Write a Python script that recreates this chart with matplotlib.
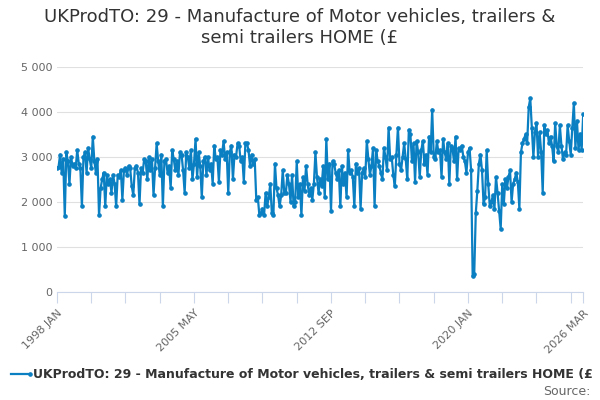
import matplotlib
matplotlib.use("Agg")
import matplotlib.pyplot as plt

values = [
    2750,2780,3050,2650,2950,1680,3100,2900,2400,3000,2800,2850,
    2750,3150,2850,2750,1900,3000,3100,2650,3200,2950,2750,3450,
    2900,2650,2950,1700,2300,2500,2650,1900,2600,2400,2500,2200,
    2600,2400,1900,2600,2550,2700,2050,2700,2750,2600,2800,2750,
    2350,2150,2750,2800,2650,1950,2750,2650,2950,2900,2500,3000,
    2700,2950,2150,2750,3300,2900,2600,3050,1900,2900,2950,2650,
    2800,2300,3150,2950,2700,2900,2600,3100,3050,2700,2200,3100,
    3000,2750,3150,2500,2850,3400,2550,3100,2800,2100,2900,3000,
    2600,3000,2700,2850,2400,3250,2950,3000,2450,3150,3050,3350,
    2950,3100,2200,3100,3250,2500,3050,3000,3300,3250,2900,3000,
    2450,3300,3300,3150,2800,3050,2850,2950,2050,2100,1700,1750,
    1850,1700,2200,1900,2100,2400,1750,1700,2850,2300,2150,1900,
    2150,2700,2200,2200,2600,2400,2000,2600,1900,2000,2900,2100,
    2400,1700,2550,2250,2800,2400,2150,2300,2050,2400,3100,2550,
    2200,2500,2350,2800,2100,3400,2500,2850,1800,2900,2850,2650,
    2500,2700,1900,2800,2400,2650,2100,3150,2650,2700,2550,1900,
    2850,2650,2750,1850,2650,2750,2550,3350,2950,2600,2800,3200,
    1900,3150,2900,2800,2650,2500,3200,3000,2700,3650,2950,3000,
    2600,2350,3050,3650,2850,2700,3000,3300,2950,2500,3600,3500,
    2900,3300,2450,3350,3100,2550,3150,3350,2850,3050,2600,3450,
    3100,4050,3000,2950,3350,3100,3150,2550,3400,3100,2950,3300,
    2400,3250,3200,2900,3450,2500,3200,3150,3250,3000,2900,2650,
    3100,3200,2700,350,400,1750,2250,2850,3050,2700,1950,2100,
    3150,2400,1900,2000,2150,1850,2550,2200,1800,1400,2400,1950,
    2500,2300,2550,2700,2000,2400,2500,2650,2450,1850,3100,3300,
    3400,3500,3300,4100,4300,3650,3000,3550,3750,3000,3550,3100,
    2200,3700,3500,3600,3300,3450,3250,2900,3750,3250,3100,3700,
    3250,2950,3100,3050,3700,3350,3050,3650,4200,3200,3800,3150,
    3500,3150,3950,
]
label_pos = [0, 88, 176, 264, 338]
label_txt = ["1998 JAN", "2005 MAY", "2012 SEP", "2020 JAN", "2026 MAR"]
title = "UKProdTO: 29 - Manufacture of Motor vehicles, trailers &\nsemi trailers HOME (£"
series_name = "UKProdTO: 29 - Manufacture of Motor vehicles, trailers & semi trailers HOME (£"

blue = "#0a7fc2"
fig = plt.figure(figsize=(6, 4), dpi=100)
ax = fig.add_axes([0.095, 0.27, 0.877, 0.563])
x = list(range(len(values)))
ax.plot(x, values, color=blue, lw=1.6, marker="o", ms=2.3)
ax.set_xlim(0, len(values) - 1)
ax.set_ylim(0, 5000)
ax.set_yticks(range(0, 5001, 1000))
ax.set_yticklabels(["0", "1 000", "2 000", "3 000", "4 000", "5 000"], color="#666666", fontsize=8)
ax.yaxis.grid(True, color="#e0e0e0", lw=0.8)
ax.set_axisbelow(True)
ticks = list(range(0, len(values), 22)) + [338]
ax.set_xticks(ticks)
ax.set_xticklabels([label_txt[label_pos.index(p)] if p in label_pos else "" for p in ticks],
                   rotation=45, ha="right", rotation_mode="anchor", color="#666666", fontsize=8)
ax.tick_params(axis="x", length=8, color="#ccd6eb")
ax.tick_params(axis="y", length=0)
for s in ["top", "right", "left"]:
    ax.spines[s].set_visible(False)
ax.spines["bottom"].set_color("#ccd6eb")
fig.text(0.5, 0.98, title, ha="center", va="top", fontsize=13, color="#333333")
fig.lines.append(plt.Line2D([0.018, 0.05], [0.065, 0.065], color=blue, lw=1.6, marker="o", ms=2.3,
                            markevery=[1], transform=fig.transFigure))
fig.text(0.055, 0.065, series_name, va="center", fontsize=9, fontweight="bold", color="#333333")
fig.text(0.905, 0.022, "Source:", va="center", fontsize=9, color="#666666")
fig.savefig("out.png")
